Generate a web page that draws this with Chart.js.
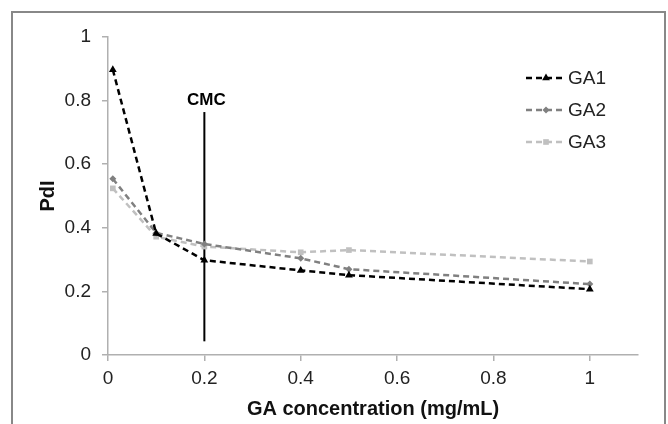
<!DOCTYPE html>
<html>
<head>
<meta charset="utf-8">
<script src="https://cdn.jsdelivr.net/npm/chart.js@4.4.0/dist/chart.umd.min.js"></script>
<style>
  html, body { margin: 0; padding: 0; background: #fff; }
  #wrap { width: 668px; height: 424px; position: relative; }
</style>
</head>
<body>
<div id="wrap"><canvas id="pdiChart" width="668" height="424"></canvas></div>
<script>
// GA concentration (mg/mL)
const concentrations = [0.01, 0.1, 0.2, 0.4, 0.5, 1];
const seriesNames = ['GA1', 'GA2', 'GA3'];
const ga1 = [0.897, 0.382, 0.298, 0.266, 0.251, 0.207];
const ga2 = [0.554, 0.384, 0.349, 0.304, 0.270, 0.223];
const ga3 = [0.524, 0.372, 0.341, 0.323, 0.330, 0.294];
const xTicks = [0, 0.2, 0.4, 0.6, 0.8, 1];
const yTicks = [0, 0.2, 0.4, 0.6, 0.8, 1];
const cmcX = 0.2;
const cmcRange = [0.043, 0.764];

const FONT = 'Arial, "Liberation Sans", sans-serif';
const toPoints = vals => vals.map((v, i) => ({ x: concentrations[i], y: v }));

const styles = [
    { color: '#000000', point: 'triangle', radius: 4.5 },
    { color: '#808080', point: 'rectRot', radius: 3.5 },
    { color: '#c0c0c0', point: 'rect', radius: 4 }
];

const datasets = [ga1, ga2, ga3].map((vals, i) => ({
    label: seriesNames[i],
    data: toPoints(vals),
    borderColor: styles[i].color,
    backgroundColor: styles[i].color,
    borderWidth: 2.5,
    borderDash: [6, 4],
    pointStyle: styles[i].point,
    pointRadius: styles[i].radius,
    pointBorderWidth: 0,
    tension: 0
}));

// CMC marker line
datasets.push({
    label: 'CMC',
    data: cmcRange.map(v => ({ x: cmcX, y: v })),
    borderColor: '#000',
    borderWidth: 2,
    pointRadius: 0
});

// frame, legend and CMC label
const decor = {
    id: 'decor',
    beforeDraw(chart) {
        const ctx = chart.ctx;
        ctx.save();
        ctx.strokeStyle = '#888';
        ctx.lineWidth = 2;
        ctx.strokeRect(12, 12, 653, 430);
        ctx.restore();
    },
    afterDraw(chart) {
        const ctx = chart.ctx;
        const xs = chart.scales.x, ys = chart.scales.y;
        ctx.save();
        // CMC label
        ctx.fillStyle = '#000';
        ctx.font = 'bold 17px ' + FONT;
        ctx.textAlign = 'center';
        ctx.textBaseline = 'bottom';
        ctx.fillText('CMC', xs.getPixelForValue(cmcX) + 2, ys.getPixelForValue(cmcRange[1]) - 3);

        // legend
        seriesNames.forEach((name, i) => {
            const y = 78 + i * 32;
            const st = styles[i];
            ctx.strokeStyle = st.color;
            ctx.lineWidth = 2.5;
            ctx.setLineDash([6, 4]);
            ctx.beginPath();
            ctx.moveTo(526, y);
            ctx.lineTo(566, y);
            ctx.stroke();
            ctx.setLineDash([]);
            ctx.fillStyle = st.color;
            Chart.helpers.drawPoint(ctx, { pointStyle: st.point, radius: st.radius, borderWidth: 0 }, 546, y);
            ctx.fillStyle = '#222';
            ctx.font = '19px ' + FONT;
            ctx.textAlign = 'left';
            ctx.textBaseline = 'middle';
            ctx.fillText(name, 568, y + 1);
        });
        ctx.restore();
    }
};

new Chart(document.getElementById('pdiChart'), {
    type: 'line',
    data: { datasets },
    options: {
        responsive: false,
        animation: false,
        layout: { padding: { left: 36, right: 30, top: 37, bottom: 3 } },
        plugins: {
            legend: { display: false },
            tooltip: { enabled: false }
        },
        scales: {
            x: {
                type: 'linear',
                min: 0,
                max: 1.1,
                afterBuildTicks: s => { s.ticks = xTicks.map(v => ({ value: v })); },
                afterFit: s => { s.height = 66; },
                border: { color: '#b0b0b0', width: 1.5 },
                grid: { drawOnChartArea: false, color: '#b0b0b0', tickLength: 6, lineWidth: 1.5 },
                ticks: {
                    color: '#222',
                    font: { size: 19, family: FONT },
                    padding: 6,
                    callback: v => String(+v.toFixed(1))
                },
                title: {
                    display: true,
                    text: 'GA concentration (mg/mL)',
                    color: '#111',
                    font: { size: 20, weight: 'bold', family: FONT },
                    padding: { top: 1, bottom: 0 }
                }
            },
            y: {
                min: 0,
                max: 1,
                afterBuildTicks: s => { s.ticks = yTicks.map(v => ({ value: v })); },
                afterFit: s => { s.width = 72; },
                border: { color: '#b0b0b0', width: 1.5 },
                grid: { drawOnChartArea: false, color: '#b0b0b0', tickLength: 6, lineWidth: 1.5 },
                ticks: {
                    color: '#222',
                    font: { size: 19, family: FONT },
                    padding: 11,
                    callback: v => String(+v.toFixed(1))
                },
                title: {
                    display: true,
                    text: 'PdI',
                    color: '#111',
                    font: { size: 20, weight: 'bold', family: FONT },
                    padding: { top: 0, bottom: 0 }
                }
            }
        }
    },
    plugins: [decor]
});
</script>
</body>
</html>
